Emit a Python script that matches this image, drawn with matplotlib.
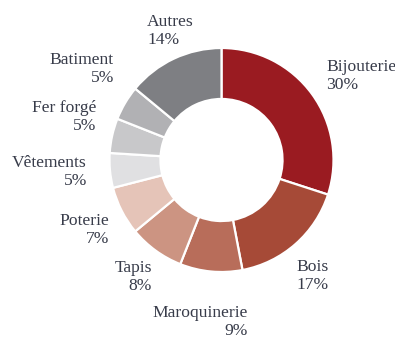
import matplotlib.pyplot as plt

# Share of each sector, clockwise from the top
sectors = ['Bijouterie', 'Bois', 'Maroquinerie', 'Tapis', 'Poterie',
           'Vêtements', 'Fer forgé', 'Batiment', 'Autres']
shares = [30, 17, 9, 8, 7, 5, 5, 5, 14]

colors = ['#9a1b21', '#a64a37', '#b86d5a', '#cc9482', '#e5c4b8',
          '#e0e0e2', '#c8c8ca', '#b1b1b4', '#7e7f83']

# label anchors in pixels (x, y from top) and horizontal alignment
label_pos = {
    'Bijouterie': (326, 76, 'left'),
    'Bois': (296, 276, 'left'),
    'Maroquinerie': (248, 322, 'right'),
    'Tapis': (152, 277, 'right'),
    'Poterie': (109, 230, 'right'),
    'Vêtements': (87, 172, 'right'),
    'Fer forgé': (96, 117, 'right'),
    'Batiment': (114, 69, 'right'),
    'Autres': (147, 31, 'left'),
}

W, H = 395, 339
fig = plt.figure(figsize=(W / 100, H / 100), dpi=100)
ax = fig.add_axes([0, 0, 1, 1])

cx, cy, R = 221.5, H - 160, 112
ax.pie(shares, colors=colors, startangle=90, counterclock=False,
       center=(cx, cy), radius=R,
       wedgeprops=dict(width=R * 0.455, edgecolor='white', linewidth=1.6))

for name, val in zip(sectors, shares):
    x, y, ha = label_pos[name]
    ax.text(x, H - y, f'{name}\n{val}%', ha=ha, va='center',
            fontsize=12.6, family='Liberation Serif', color='#383c4a',
            linespacing=1.22)

ax.set_xlim(0, W)
ax.set_ylim(0, H)
ax.set_aspect('equal')
ax.axis('off')

fig.savefig('out.png', dpi=100)
